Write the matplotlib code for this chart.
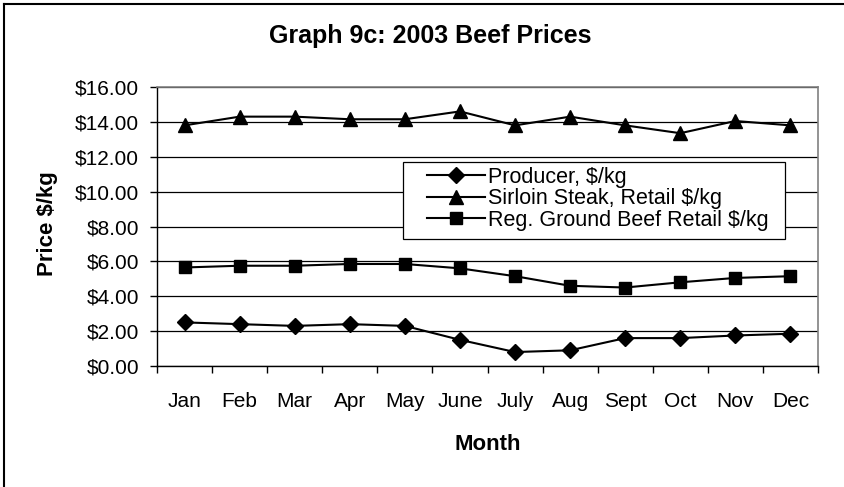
import matplotlib
matplotlib.use("Agg")
import matplotlib.pyplot as plt
from matplotlib.lines import Line2D
from matplotlib.patches import Rectangle
import numpy as np

plt.rcParams['font.family'] = ['Liberation Sans', 'DejaVu Sans']

months = ["Jan", "Feb", "Mar", "Apr", "May", "June",
          "July", "Aug", "Sept", "Oct", "Nov", "Dec"]
producer = [2.5, 2.4, 2.3, 2.4, 2.3, 1.5, 0.8, 0.9, 1.6, 1.6, 1.75, 1.85]
sirloin = [13.8, 14.3, 14.3, 14.15, 14.15, 14.6, 13.8, 14.3, 13.8, 13.35, 14.05, 13.8]
ground = [5.65, 5.75, 5.75, 5.85, 5.85, 5.6, 5.15, 4.6, 4.5, 4.8, 5.05, 5.15]
y_ticks = [0, 2, 4, 6, 8, 10, 12, 14, 16]

W, H = 844, 487
fig = plt.figure(figsize=(W / 100, H / 100), dpi=100)
ax = fig.add_axes([157 / W, 1 - 366 / H, 661 / W, 279 / H])

x = np.arange(len(months))
ax.plot(x, producer, color='black', lw=1.5, marker='D', ms=8,
        label="Producer, $/kg")
ax.plot(x, sirloin, color='black', lw=1.5, marker='^', ms=10,
        label="Sirloin Steak, Retail $/kg")
ax.plot(x, ground, color='black', lw=1.5, marker='s', ms=9,
        label="Reg. Ground Beef Retail $/kg")

ax.set_xlim(-0.5, len(months) - 0.5)
ax.set_ylim(0, 16)
ax.set_yticks(y_ticks)
ax.set_yticklabels(["${:.2f}".format(v) for v in y_ticks])
ax.set_xticks(x)
ax.set_xticklabels(months)
ax.set_xticks(np.arange(-0.5, len(months)), minor=True)
ax.tick_params(axis='x', which='major', length=0, pad=19, labelsize=15)
ax.tick_params(axis='x', which='minor', length=5, width=1, direction='out')
ax.tick_params(axis='y', length=5, width=1, direction='out', labelsize=15, pad=8)

ax.yaxis.grid(True, color='black', lw=0.9)
ax.set_axisbelow(True)
for s in ['top', 'right']:
    ax.spines[s].set_color('#808080')
    ax.spines[s].set_linewidth(1.2)
for s in ['left', 'bottom']:
    ax.spines[s].set_color('black')
    ax.spines[s].set_linewidth(1.0)

# titles placed in pixel positions of the figure
fig.text(430 / W, 1 - 36 / H, "Graph 9c: 2003 Beef Prices",
         fontsize=18, fontweight='bold', ha='center', va='center')
fig.text(488 / W, 1 - 445 / H, "Month",
         fontsize=16, fontweight='bold', ha='center', va='center')
fig.text(48 / W, 1 - 224 / H, "Price $/kg", rotation=90,
         fontsize=16, fontweight='bold', ha='center', va='center')

# legend box drawn by hand, entries without frame
ax.add_patch(Rectangle((403 / W, 1 - 239 / H), 382 / W, 77 / H,
                       transform=fig.transFigure, facecolor='white',
                       edgecolor='black', lw=0.9, zorder=4))
leg = ax.legend(loc='upper left', bbox_to_anchor=(427 / W, 1 - 167 / H),
                bbox_transform=fig.transFigure,
                fontsize=15.5, handlelength=2.7, labelspacing=0.02,
                handletextpad=0.15, borderpad=0.0, frameon=False,
                borderaxespad=0)
leg.set_zorder(5)

# chart border on top and left
fig.add_artist(Line2D([4 / W, 4 / W], [0, 1 - 4 / H], color='black', lw=1.5))
fig.add_artist(Line2D([4 / W, 1], [1 - 4 / H, 1 - 4 / H], color='black', lw=1.5))

fig.savefig("out.png", dpi=100)
